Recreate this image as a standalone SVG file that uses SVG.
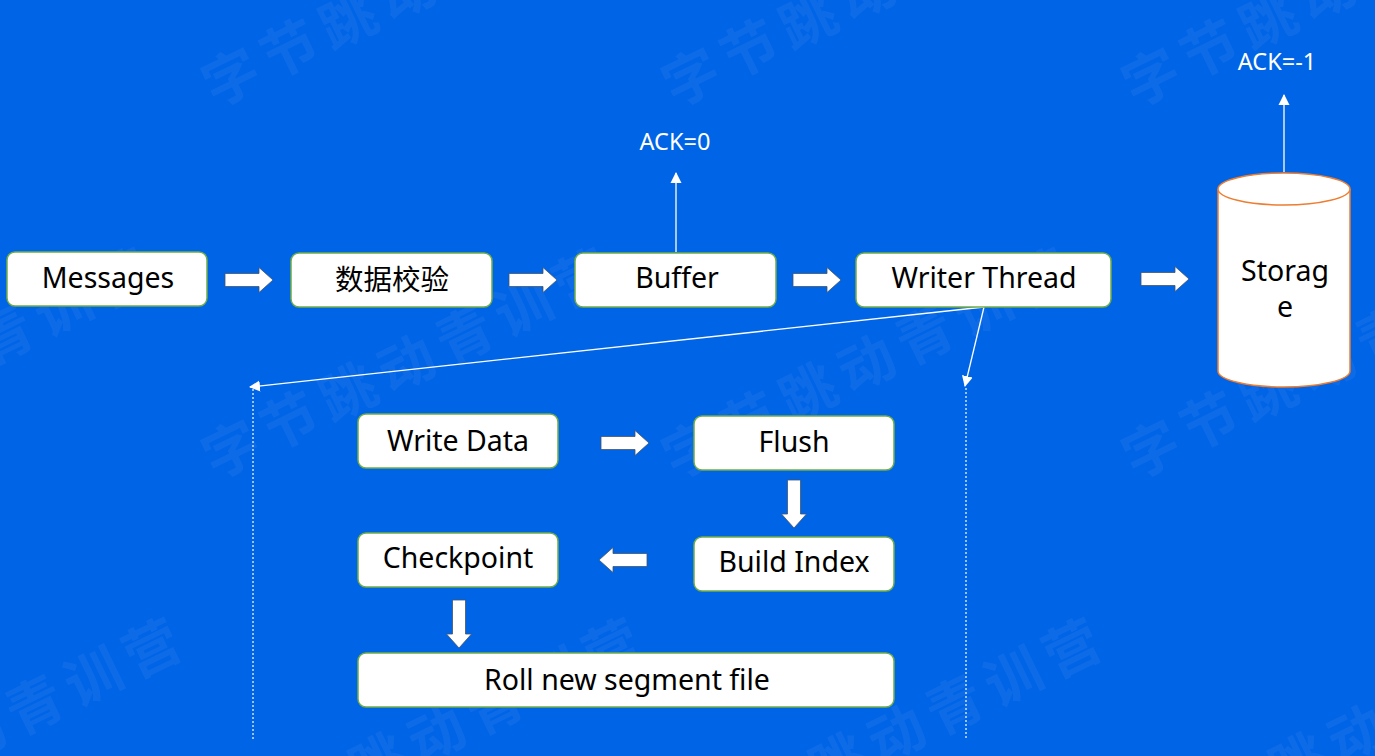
<svg xmlns="http://www.w3.org/2000/svg" xmlns:xlink="http://www.w3.org/1999/xlink" width="1375" height="756" viewBox="0 0 1375 756">
<style>
.wm{font-family:"Noto Sans CJK SC","Noto Sans",sans-serif;font-weight:700;font-size:56px;letter-spacing:9px;fill:#ffffff;fill-opacity:0.05}
.box{fill:#ffffff;stroke:#70AD47;stroke-width:1.5}
.lbl{font-family:"Noto Sans","Noto Sans CJK SC",sans-serif;font-size:28.5px;fill:#000000;text-anchor:middle}
.ack{font-family:"Noto Sans",sans-serif;font-size:23.5px;fill:#ffffff;text-anchor:middle}
.ln{stroke:#ffffff;stroke-width:1.3;fill:none}
.dot{stroke:#ffffff;stroke-width:1.2;stroke-dasharray:2 2;fill:none}
.ba{fill:#ffffff;stroke:#44546A;stroke-width:0.8}
</style>
<defs>
<path id="barrow" d="M0,-6.5 H34 V-12.5 L48,0 L34,12.5 V6.5 H0 Z"/>
<marker id="ah" markerWidth="11" markerHeight="12" refX="10" refY="6" orient="auto" markerUnits="userSpaceOnUse">
<path d="M0,0.5 L11,6 L0,11.5 Z" fill="#ffffff"/>
</marker>
</defs>
<rect x="0" y="0" width="1375" height="756" fill="#0064E6"/>
<g id="watermark">
<text class="wm" transform="translate(215,108) rotate(-26)">字节跳动青训营</text>
<text class="wm" transform="translate(675,108) rotate(-26)">字节跳动青训营</text>
<text class="wm" transform="translate(1135,108) rotate(-26)">字节跳动青训营</text>
<text class="wm" transform="translate(-245,480) rotate(-26)">字节跳动青训营</text>
<text class="wm" transform="translate(215,480) rotate(-26)">字节跳动青训营</text>
<text class="wm" transform="translate(675,480) rotate(-26)">字节跳动青训营</text>
<text class="wm" transform="translate(1135,480) rotate(-26)">字节跳动青训营</text>
<text class="wm" transform="translate(-215,850) rotate(-26)">字节跳动青训营</text>
<text class="wm" transform="translate(245,850) rotate(-26)">字节跳动青训营</text>
<text class="wm" transform="translate(705,850) rotate(-26)">字节跳动青训营</text>
<text class="wm" transform="translate(1165,850) rotate(-26)">字节跳动青训营</text>
</g>
<g id="connectors">
<line class="ln" x1="676" y1="252" x2="676" y2="173" marker-end="url(#ah)"/>
<line class="ln" x1="1284" y1="172" x2="1284" y2="95" marker-end="url(#ah)"/>
<line class="ln" x1="984" y1="307" x2="250" y2="387" marker-end="url(#ah)"/>
<line class="ln" x1="984" y1="307" x2="965" y2="386" marker-end="url(#ah)"/>
<line class="dot" x1="253" y1="389" x2="253" y2="740"/>
<line class="dot" x1="966" y1="388" x2="966" y2="740"/>
<use class="ba" href="#barrow" xlink:href="#barrow" transform="translate(225,280)"/>
<use class="ba" href="#barrow" xlink:href="#barrow" transform="translate(509,280)"/>
<use class="ba" href="#barrow" xlink:href="#barrow" transform="translate(793,280)"/>
<use class="ba" href="#barrow" xlink:href="#barrow" transform="translate(1141,279)"/>
<use class="ba" href="#barrow" xlink:href="#barrow" transform="translate(601,443)"/>
<use class="ba" href="#barrow" xlink:href="#barrow" transform="translate(794,480) rotate(90)"/>
<use class="ba" href="#barrow" xlink:href="#barrow" transform="translate(647,560) rotate(180)"/>
<use class="ba" href="#barrow" xlink:href="#barrow" transform="translate(459,600) rotate(90)"/>
</g>
<g id="ack0"><text class="ack" x="675" y="150">ACK=0</text></g>
<g id="ack-1"><text class="ack" x="1277" y="70">ACK=-1</text></g>
<g id="messages"><rect class="box" x="7" y="252" width="200" height="54" rx="8"/><text class="lbl" x="108" y="288">Messages</text></g>
<g id="validate"><rect class="box" x="291" y="253" width="201" height="54" rx="8"/><text class="lbl" x="392" y="290">数据校验</text></g>
<g id="buffer"><rect class="box" x="575" y="253" width="201" height="54" rx="8"/><text class="lbl" x="677" y="288">Buffer</text></g>
<g id="writer"><rect class="box" x="856" y="253" width="255" height="54" rx="8"/><text class="lbl" x="984" y="288">Writer Thread</text></g>
<g id="storage">
<path d="M1218,189 V371 A66,16 0 0 0 1350,371 V189" fill="#ffffff" stroke="#ED7D31" stroke-width="1.5"/>
<ellipse cx="1284" cy="189" rx="66" ry="16" fill="#ffffff" stroke="#ED7D31" stroke-width="1.5"/>
<text class="lbl" x="1285" y="281">Storag</text>
<text class="lbl" x="1285" y="317">e</text>
</g>
<g id="writedata"><rect class="box" x="358" y="414" width="200" height="54" rx="8"/><text class="lbl" x="458" y="451">Write Data</text></g>
<g id="flush"><rect class="box" x="694" y="416" width="200" height="54" rx="8"/><text class="lbl" x="794" y="452">Flush</text></g>
<g id="checkpoint"><rect class="box" x="358" y="533" width="200" height="54" rx="8"/><text class="lbl" x="458" y="568">Checkpoint</text></g>
<g id="buildindex"><rect class="box" x="694" y="537" width="200" height="54" rx="8"/><text class="lbl" x="794" y="572">Build Index</text></g>
<g id="roll"><rect class="box" x="358" y="653" width="536" height="54" rx="8"/><text class="lbl" x="627" y="690">Roll new segment file</text></g>
</svg>
